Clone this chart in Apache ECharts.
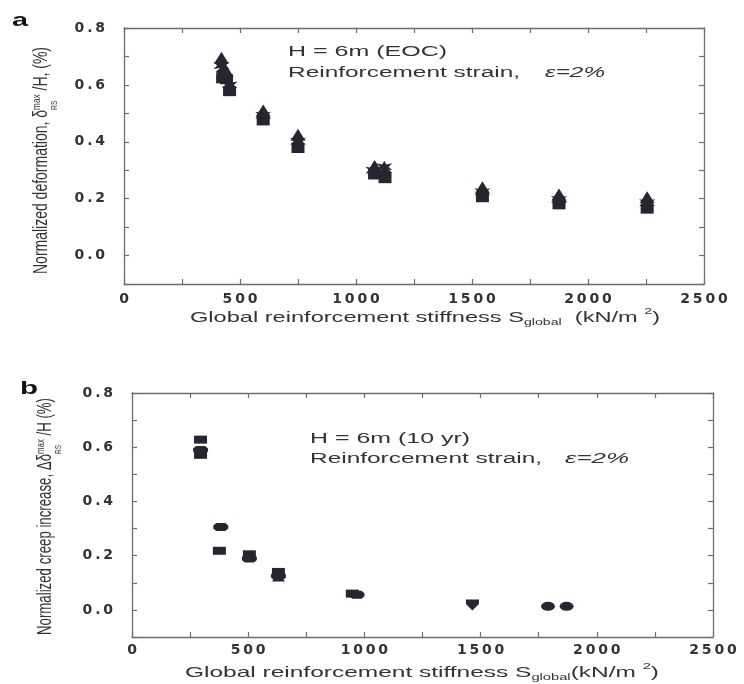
<!DOCTYPE html>
<html>
<head>
<meta charset="utf-8">
<script src="https://cdn.jsdelivr.net/npm/echarts@6/dist/echarts.min.js"></script>
<style>
  html, body { margin: 0; padding: 0; background: #ffffff; }
  #chart { width: 744px; height: 684px; }
</style>
</head>
<body>
<div id="chart"></div>
<script>
// Panel a: normalized deformation at end of construction, [stiffness kN/m2, value %]
const eocTriangle = [[420, 0.695], [440, 0.650], [600, 0.510], [750, 0.425], [1080, 0.315], [1545, 0.240], [1875, 0.215], [2255, 0.205]];
const eocStar     = [[420, 0.668], [455, 0.600], [600, 0.493], [750, 0.402], [1075, 0.300], [1122, 0.312], [1545, 0.224], [1875, 0.197], [2255, 0.186]];
const eocDiamond  = [[425, 0.645], [1125, 0.292], [1878, 0.190]];
const eocSquare   = [[425, 0.623], [442, 0.620], [455, 0.578], [600, 0.475], [750, 0.378], [1080, 0.285], [1125, 0.272], [1545, 0.205], [1875, 0.180], [2255, 0.165]];

// Panel b: normalized creep increase after 10 years
const creepSquare   = [[295, 0.628], [295, 0.572], [376, 0.218], [505, 0.205], [630, 0.140], [948, 0.060]];
const creepStar     = [[295, 0.590], [382, 0.306], [505, 0.190], [630, 0.125], [968, 0.056]];
const creepTriangle = [[295, 0.583], [505, 0.196], [630, 0.121]];
const creepShield   = [[1465, 0.018]];
const creepCircle   = [[1790, 0.013], [1870, 0.013]];

// Axis ranges shared by both panels
const xRange = { min: 0, max: 2500, step: 250, labelStep: 500 };
const yRange = { min: -0.1, max: 0.8, step: 0.1, labelStep: 0.2 };

const INK = '#25262f';
const AXIS = '#6e6e6e';
const TEXT = '#333333';
const STAR = 'path://M5,0 L6.3,3 L10,2.1 L7.7,5 L10,7.9 L6.3,7 L5,10 L3.7,7 L0,7.9 L2.3,5 L0,2.1 L3.7,3 Z';
const BLOB = 'path://M2,1 L8,1 L10,3.5 L10,6.5 L8,9 L2,9 L0,6.5 L0,3.5 Z';
const SHIELD = 'path://M0,0 L10,0 L10,4 L5,10 L0,4 Z';

// Tick label text with thin spaces between the characters
const spaced = s => s.split('').join('\u2009');

function xAxisPair(gridIndex) {
  const base = {
    type: 'value', gridIndex, min: xRange.min, max: xRange.max, interval: xRange.step,
    splitLine: { show: false },
    axisLine: { show: true, onZero: false, lineStyle: { color: AXIS, width: 1.3 } },
    axisTick: { show: true, inside: true, length: 5, lineStyle: { color: AXIS, width: 1.2 } }
  };
  return [
    Object.assign({}, base, {
      position: 'bottom',
      axisLabel: {
        margin: gridIndex === 0 ? 8 : 6,
        fontFamily: 'DejaVu Sans', fontWeight: 'bold', fontSize: 14, color: TEXT,
        formatter: v => (Math.round(v) % xRange.labelStep === 0 ? spaced(String(Math.round(v))) : '')
      }
    }),
    Object.assign({}, base, { position: 'top', axisLabel: { show: false } })
  ];
}

function yAxisPair(gridIndex) {
  const base = {
    type: 'value', gridIndex, min: yRange.min, max: yRange.max, interval: yRange.step,
    splitLine: { show: false },
    axisLine: { show: true, onZero: false, lineStyle: { color: AXIS, width: 1.3 } },
    axisTick: { show: true, inside: true, length: 5, lineStyle: { color: AXIS, width: 1.2 } }
  };
  return [
    Object.assign({}, base, {
      position: 'left',
      axisLabel: {
        margin: 19,
        fontFamily: 'DejaVu Sans', fontWeight: 'bold', fontSize: 14, color: TEXT,
        formatter: v => {
          const k = Math.round(v * 10);
          return (k >= 0 && k % 2 === 0) ? spaced((k / 10).toFixed(1)) : '';
        }
      }
    }),
    Object.assign({}, base, { position: 'right', axisLabel: { show: false } })
  ];
}

function scatter(data, symbol, size, xi, yi) {
  return {
    type: 'scatter', data, symbol, symbolSize: size,
    xAxisIndex: xi, yAxisIndex: yi,
    itemStyle: { color: INK, opacity: 1 },
    emphasis: { disabled: true }, silent: true, z: 3
  };
}

// Text measuring for multi-part labels (sub- and superscripts)
const measureCtx = document.createElement('canvas').getContext('2d');
function textWidth(str, font) { measureCtx.font = font; return measureCtx.measureText(str).width; }

// Lays text pieces side by side (a stacked piece shares the previous start),
// then stretches the whole line to the requested length.
function textLine(pieces, o) {
  let cursor = 0, lastStart = 0;
  const placed = pieces.map(p => {
    const font = `${p.italic ? 'italic' : 'normal'} ${p.weight || 'normal'} ${p.size}px ${o.family || "'Liberation Sans', Arial, sans-serif"}`;
    const w = textWidth(p.text, font);
    const start = p.stack ? lastStart : cursor;
    cursor = p.stack ? Math.max(cursor, start + w) : start + w;
    lastStart = start;
    return { text: p.text, font, start, dy: p.dy || 0 };
  });
  const total = cursor;
  return {
    type: 'group', x: o.x, y: o.y, rotation: o.rotation || 0,
    scaleX: o.length / total, scaleY: o.stretch || 1, silent: true,
    children: placed.map(p => ({
      type: 'text', x: p.start, y: p.dy, silent: true,
      style: { text: p.text, font: p.font, fill: o.color || TEXT, textAlign: 'left', textVerticalAlign: 'middle' }
    }))
  };
}

const graphics = [
  // panel letters
  textLine([{ text: 'a', size: 19, weight: 'bold' }], { x: 12, y: 20.5, length: 16, color: '#111' }),
  textLine([{ text: 'b', size: 19, weight: 'bold' }], { x: 20, y: 389, length: 18, color: '#111' }),

  // panel a annotation
  textLine([{ text: 'H = 6m (EOC)', size: 14 }], { x: 288, y: 52, length: 159 }),
  textLine([{ text: 'Reinforcement strain,', size: 14 }], { x: 288, y: 73, length: 232 }),
  textLine([{ text: '\u03b5=2%', size: 14, italic: true }], { x: 545, y: 73, length: 60 }),

  // panel b annotation
  textLine([{ text: 'H = 6m (10 yr)', size: 14 }], { x: 310, y: 439, length: 160 }),
  textLine([{ text: 'Reinforcement strain,', size: 14 }], { x: 310, y: 459, length: 232 }),
  textLine([{ text: '\u03b5=2%', size: 14, italic: true }], { x: 565, y: 459, length: 64 }),

  // x axis titles
  textLine([
    { text: 'Global reinforcement stiffness S', size: 15 },
    { text: 'global', size: 9, dy: 5 },
    { text: '  (kN/m ', size: 15 },
    { text: '2', size: 9, dy: -6 },
    { text: ')', size: 15 }
  ], { x: 190, y: 318, length: 470 }),
  textLine([
    { text: 'Global reinforcement stiffness S', size: 15 },
    { text: 'global', size: 9, dy: 5 },
    { text: '(kN/m ', size: 15 },
    { text: '2', size: 9, dy: -6 },
    { text: ')', size: 15 }
  ], { x: 185, y: 673, length: 474 }),

  // y axis titles, reading upwards
  textLine([
    { text: 'Normalized deformation, \u03b4', size: 11 },
    { text: 'max', size: 6.5, dy: -2.8 },
    { text: 'RS', size: 5.5, dy: 6.9, stack: true },
    { text: ' /H, (%)', size: 11 }
  ], { x: 42, y: 274, length: 227, rotation: Math.PI / 2, stretch: 1.8 }),
  textLine([
    { text: 'Normalized creep increase, \u0394\u03b4', size: 11 },
    { text: 'max', size: 6.5, dy: -2.8 },
    { text: 'RS', size: 5.5, dy: 6.9, stack: true },
    { text: ' /H (%)', size: 11 }
  ], { x: 46, y: 635, length: 237, rotation: Math.PI / 2, stretch: 1.8 })
];

const chart = echarts.init(document.getElementById('chart'), null, { renderer: 'canvas' });
chart.setOption({
  animation: false,
  backgroundColor: '#ffffff',
  grid: [
    { left: 124, top: 28, right: 40, bottom: 400, containLabel: false },
    { left: 132, top: 393, right: 31, bottom: 47, containLabel: false }
  ],
  xAxis: [...xAxisPair(0), ...xAxisPair(1)],
  yAxis: [...yAxisPair(0), ...yAxisPair(1)],
  series: [
    scatter(eocSquare, 'rect', [13, 10], 0, 0),
    scatter(eocDiamond, 'diamond', [14, 12], 0, 0),
    scatter(eocStar, STAR, [16, 12], 0, 0),
    scatter(eocTriangle, 'triangle', [15, 12], 0, 0),

    scatter(creepSquare, 'rect', [13, 8], 2, 2),
    scatter(creepTriangle, 'triangle', [13, 9], 2, 2),
    scatter(creepStar, BLOB, [15, 8], 2, 2),
    scatter(creepShield, SHIELD, [13, 11], 2, 2),
    scatter(creepCircle, 'circle', [14, 9], 2, 2)
  ],
  graphic: graphics
});
</script>
</body>
</html>
